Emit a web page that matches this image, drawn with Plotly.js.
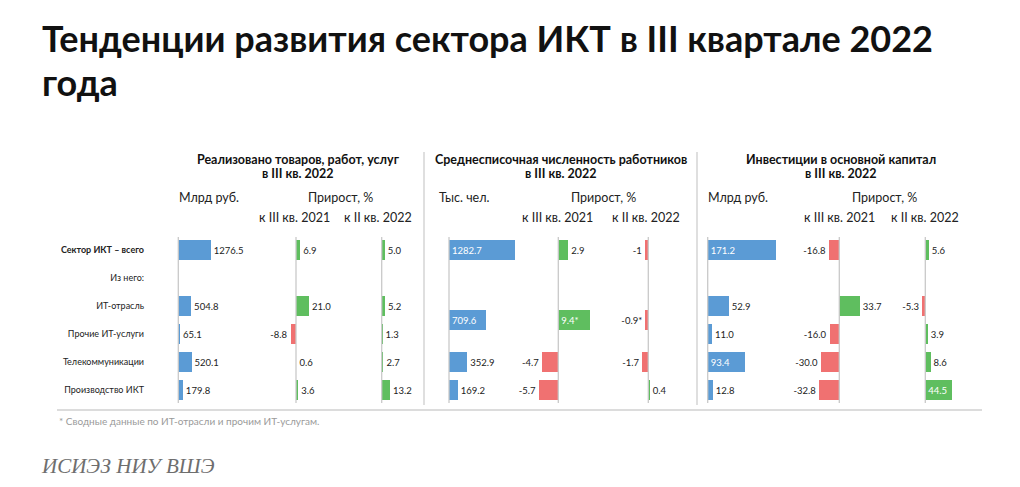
<!DOCTYPE html>
<html>
<head>
<meta charset="utf-8">
<script src="https://cdn.plot.ly/plotly-3.0.1.min.js"></script>
<style>html,body{margin:0;padding:0;background:#fff;}#chart{width:1020px;height:487px;}</style>
</head>
<body>
<div id="chart"></div>
<script>
// ---- data ----
const rowLabels = ['<b>Сектор ИКТ – всего</b>', 'Из него:', 'ИТ-отрасль', 'Прочие ИТ-услуги', 'Телекоммуникации', 'Производство ИКТ'];

const salesRows = [0, 2, 3, 4, 5];
const salesValue = [1276.5, 504.8, 65.1, 520.1, 179.8];
const salesYoY = [6.9, 21.0, -8.8, 0.6, 3.6];
const salesQoQ = [5.0, 5.2, 1.3, 2.7, 13.2];

const staffRows = [0, 2.5, 4, 5];   // ИТ-отрасль and Прочие ИТ-услуги combined
const staffValue = [1282.7, 709.6, 352.9, 169.2];
const staffYoY = [2.9, 9.4, -4.7, -5.7];
const staffQoQ = [-1, -0.9, -1.7, 0.4];
const staffYoYLabels = ['2.9', '9.4*', '-4.7', '-5.7'];
const staffQoQLabels = ['-1', '-0.9*', '-1.7', '0.4'];

const investRows = [0, 2, 3, 4, 5];
const investValue = [171.2, 52.9, 11.0, 93.4, 12.8];
const investYoY = [-16.8, 33.7, -16.0, -30.0, -32.8];
const investQoQ = [5.6, -5.3, 3.9, 8.6, 44.5];

const titleLines = ['Тенденции развития сектора ИКТ в III квартале 2022', 'года'];
const panelTitles = [['Реализовано товаров, работ, услуг', 'в III кв. 2022'],
                     ['Среднесписочная численность работников', 'в III кв. 2022'],
                     ['Инвестиции в основной капитал', 'в III кв. 2022']];
const unitLabels = ['Млрд руб.', 'Тыс. чел.', 'Млрд руб.'];
const growthLabel = 'Прирост, %';
const periodLabels = ['к III кв. 2021', 'к II кв. 2022'];
const footnote = '* Сводные данные по ИТ-отрасли и прочим ИТ-услугам.';
const source = 'ИСИЭЗ НИУ ВШЭ';

// ---- styles / layout geometry (pixels) ----
const W = 1020, H = 487;
const BLUE = '#5B9BD5', GREEN = '#5FBE5F', RED = '#F07171', GRID = '#C9C9C9';
const FONT = 'Lato, "Noto Sans", sans-serif';
// each column: baseline px, px per unit, domain px
const cols = [
  {bx: 178.3, s: 0.02538, d: [170, 262]},
  {bx: 296.0, s: 0.62,   d: [264, 340]},
  {bx: 381.7, s: 0.63,   d: [342, 422]},
  {bx: 449.0, s: 0.0518, d: [430, 530]},
  {bx: 558.3, s: 3.40,   d: [532, 606]},
  {bx: 648.3, s: 3.45,   d: [608, 694]},
  {bx: 707.7, s: 0.397,  d: [700, 790]},
  {bx: 839.3, s: 0.61,   d: [792, 880]},
  {bx: 925.3, s: 0.61,   d: [882, 990]}
];
const plotTop = 237, plotBot = 403, rowPx = 28, row0 = 250;
const yTopVal = (plotTop - row0) / rowPx, yBotVal = (plotBot - row0) / rowPx;

const fmt = v => v.toFixed(1);
const series = [
  {rows: salesRows, vals: salesValue, kind: 'value'},
  {rows: salesRows, vals: salesYoY, kind: 'growth'},
  {rows: salesRows, vals: salesQoQ, kind: 'growth'},
  {rows: staffRows, vals: staffValue, kind: 'value', inside: [0, 1]},
  {rows: staffRows, vals: staffYoY, kind: 'growth', labels: staffYoYLabels, inside: [1]},
  {rows: staffRows, vals: staffQoQ, kind: 'growth', labels: staffQoQLabels},
  {rows: investRows, vals: investValue, kind: 'value', inside: [0, 3]},
  {rows: investRows, vals: investYoY, kind: 'growth'},
  {rows: investRows, vals: investQoQ, kind: 'growth', inside: [4]}
];

const traces = [];
const layout = {
  width: W, height: H,
  margin: {l: 0, r: 0, t: 0, b: 0},
  paper_bgcolor: '#fff', plot_bgcolor: 'rgba(0,0,0,0)',
  showlegend: false, hovermode: false,
  font: {family: FONT, color: '#222'},
  bargap: 0,
  yaxis: {
    domain: [1 - plotBot / H, 1 - plotTop / H],
    range: [yBotVal, yTopVal],
    tickvals: [0, 1, 2, 3, 4, 5], ticktext: rowLabels,
    showgrid: false, zeroline: false, showline: false, ticks: '',
    anchor: 'free', position: 144 / W,
    tickfont: {family: FONT, size: 9, color: '#222'}
  },
  shapes: [], annotations: []
};

series.forEach((sr, i) => {
  const c = cols[i];
  const ax = 'x' + (i === 0 ? '' : (i + 1));
  const axKey = 'xaxis' + (i === 0 ? '' : (i + 1));
  const rng = [(c.d[0] - c.bx) / c.s, (c.d[1] - c.bx) / c.s];
  layout[axKey] = {domain: [c.d[0] / W, c.d[1] / W], range: rng, visible: false, anchor: 'y', fixedrange: true};
  const inside = sr.inside || [];
  const text = sr.labels ? sr.labels : sr.vals.map(fmt);
  const colors = sr.vals.map(v => sr.kind === 'value' ? BLUE : (v >= 0 ? GREEN : RED));
  traces.push({
    type: 'bar', orientation: 'h', xaxis: ax, yaxis: 'y',
    x: sr.vals, y: sr.rows, width: 0.71,
    marker: {color: colors, line: {width: 0}},
    text: text,
    textposition: sr.vals.map((v, k) => inside.includes(k) ? 'inside' : 'outside'),
    insidetextanchor: 'start',
    insidetextfont: {family: FONT, size: 9.5, color: '#fff'},
    outsidetextfont: {family: FONT, size: 9.5, color: '#222'},
    textangle: 0, constraintext: 'none', cliponaxis: false,
    hoverinfo: 'skip'
  });
  layout.shapes.push({type: 'line', xref: ax, yref: 'y domain', x0: 0, x1: 0, y0: 0, y1: 1,
                      line: {color: GRID, width: 1.3}, layer: 'above'});
});

// panel separators and bottom rule
[424, 697].forEach(x => layout.shapes.push({type: 'line', xref: 'paper', yref: 'paper',
  x0: x / W, x1: x / W, y0: 1 - 405 / H, y1: 1 - 152 / H, line: {color: '#D5D5D5', width: 1.5}}));
layout.shapes.push({type: 'line', xref: 'paper', yref: 'paper', x0: 57 / W, x1: 982 / W,
  y0: 1 - 410 / H, y1: 1 - 410 / H, line: {color: '#D0D0D0', width: 1.5}});

function ann(text, x, y, opts) {
  layout.annotations.push(Object.assign({text: text, x: x / W, y: 1 - y / H, xref: 'paper', yref: 'paper',
    showarrow: false, xanchor: 'center', yanchor: 'middle',
    font: {family: FONT, size: 11, color: '#222'}}, opts || {}));
}
// main title
const titleFont = {family: FONT, size: 36, color: '#111', weight: 700};
ann(titleLines[0], 40, 38, {xanchor: 'left', font: titleFont});
ann(titleLines[1], 40, 82, {xanchor: 'left', font: titleFont});
// panel headers
const titleCx = [298, 561, 841];
const unitX = [177, 437, 706];
const growthCx = [340, 603, 884];
const p1Cx = [294, 557, 839], p2Cx = [377.5, 646, 925];
const hdrFont = {family: FONT, size: 12.5, color: '#222'};
const ptFont = {family: FONT, size: 12.5, color: '#111', weight: 700};
for (let p = 0; p < 3; p++) {
  ann(panelTitles[p][0], titleCx[p], 159, {font: ptFont});
  ann(panelTitles[p][1], titleCx[p], 173, {font: ptFont});
  ann(unitLabels[p], unitX[p], 198, {xanchor: 'left', font: hdrFont});
  ann(growthLabel, growthCx[p], 198, {font: hdrFont});
  ann(periodLabels[0], p1Cx[p], 217, {font: hdrFont});
  ann(periodLabels[1], p2Cx[p], 217, {font: hdrFont});
}
ann(footnote, 57, 421, {xanchor: 'left', font: {family: FONT, size: 10, color: '#9A9A9A'}});
ann('<i>' + source + '</i>', 39, 466,
    {xanchor: 'left', font: {family: '"Liberation Serif", "DejaVu Serif", serif', size: 21, color: '#6E6E6E'}});

Plotly.newPlot('chart', traces, layout, {displayModeBar: false, staticPlot: true});
</script>
</body>
</html>
